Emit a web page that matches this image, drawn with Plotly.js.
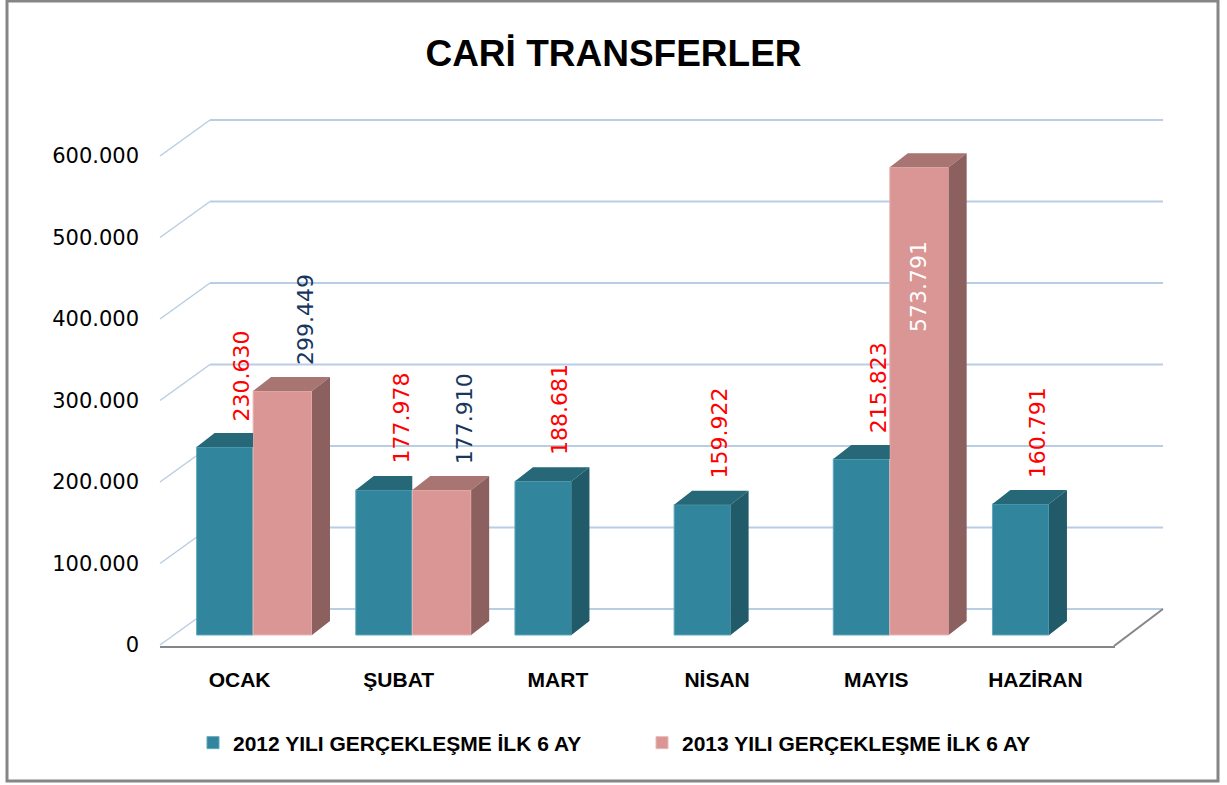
<!DOCTYPE html>
<html>
<head>
<meta charset="utf-8">
<script src="https://cdn.plot.ly/plotly-3.0.1.min.js"></script>
<style>html,body{margin:0;padding:0;background:#fff;}#chart{width:1227px;height:785px;}</style>
</head>
<body>
<div id="chart"></div>
<script>
// ---------------- DATA ----------------
const months = ['OCAK', 'ŞUBAT', 'MART', 'NİSAN', 'MAYIS', 'HAZİRAN'];
const values2012 = [230630, 177978, 188681, 159922, 215823, 160791];
const values2013 = [299449, 177910, null, null, 573791, null];
const seriesNames = ['2012 YILI GERÇEKLEŞME İLK 6 AY', '2013 YILI GERÇEKLEŞME İLK 6 AY'];
const yTickValues = [0, 100000, 200000, 300000, 400000, 500000, 600000];
const chartTitle = 'CARİ TRANSFERLER';

// ---------------- STYLE / GEOMETRY ----------------
const W = 1227, H = 785;
const plotL = 160, plotR = 1115, plotT = 100, plotB = 646;
const baseY = 635;                 // pixel of value 0 (bar base)
const pxPerUnit = 81.5 / 100000;   // vertical scale
const plotW = plotR - plotL, plotH = plotB - plotT;
const yMin = -(plotB - baseY) / pxPerUnit;
const yMax = yMin + plotH / pxPerUnit;
const pxPerCat = plotW / months.length;
const depthPx = {x: 18, y: 14};
const dx = depthPx.x / pxPerCat;
const dy = depthPx.y / pxPerUnit;

const colors = {
  front: ['#31859C', '#D99694'],
  top: ['#266878', '#A87572'],
  side: ['#215A68', '#8C605E'],
  edge: ['#5FA8BC', '#E8B8B6'],
  label: ['#FF0000', '#17375E'],
  grid: '#B9CDE5',
  floor: '#868686'
};
const barWidth = [0.355, 0.37];
const barOffset = [-0.27, 0.085];
const labelXShift = [17, 23];
const insideThreshold = 500000;
const fmt = v => v.toLocaleString('de-DE');
const px2paperX = px => (px - plotL) / plotW;
const px2paperY = py => (plotB - py) / plotH;

const idx = months.map((_, i) => i);
const series = [values2012, values2013];

// ---------------- TRACES ----------------
const traces = [];
series.forEach((vals, s) => {
  traces.push({
    type: 'bar', name: '<b>' + seriesNames[s] + '</b>',
    x: idx, y: vals, width: barWidth[s], offset: barOffset[s],
    marker: {color: colors.front[s], line: {color: colors.edge[s], width: 1}},
    hoverinfo: 'x+y'
  });
});

// 3D top and side faces derived from the values
series.forEach((vals, s) => {
  const tx = [], ty = [], sx = [], sy = [];
  vals.forEach((v, i) => {
    if (v === null) return;
    const x0 = i + barOffset[s], x1 = x0 + barWidth[s];
    const other = s === 0 ? values2013[i] : null;
    const hidden = other !== null && other >= v - 1000;
    if (hidden) {
      tx.push(x0, x1, x1, x0 + dx, x0, null);
      ty.push(v, v, v + dy, v + dy, v, null);
    } else {
      tx.push(x0, x1, x1 + dx, x0 + dx, x0, null);
      ty.push(v, v, v + dy, v + dy, v, null);
      sx.push(x1, x1, x1 + dx, x1 + dx, x1, null);
      sy.push(0, v, v + dy, dy, 0, null);
    }
  });
  traces.push({type: 'scatter', mode: 'lines', x: tx, y: ty, fill: 'toself',
    fillcolor: colors.top[s], line: {width: 0, color: colors.top[s]}, showlegend: false, hoverinfo: 'skip'});
  if (sx.length) traces.push({type: 'scatter', mode: 'lines', x: sx, y: sy, fill: 'toself',
    fillcolor: colors.side[s], line: {width: 0, color: colors.side[s]}, showlegend: false, hoverinfo: 'skip'});
});

// ---------------- ANNOTATIONS (data labels) ----------------
const annotations = [];
series.forEach((vals, s) => {
  vals.forEach((v, i) => {
    if (v === null) return;
    const xc = i + barOffset[s] + barWidth[s] / 2;
    const inside = v > insideThreshold;
    annotations.push({
      x: xc, y: v, xref: 'x', yref: 'y', text: fmt(v), showarrow: false,
      textangle: -90, xanchor: 'center', yanchor: inside ? 'top' : 'bottom',
      xshift: inside ? 0 : labelXShift[s], yshift: inside ? -72 : 24,
      font: {family: 'DejaVu Sans', size: 22, color: inside ? '#FFFFFF' : colors.label[s]}
    });
  });
});

// ---------------- SHAPES (3D walls & grid) ----------------
const shapes = [];
yTickValues.forEach(v => {
  // back wall gridline
  shapes.push({type: 'line', layer: 'below', xref: 'paper', yref: 'y',
    xsizemode: 'pixel', xanchor: 0, x0: 50, x1: 1003,
    ysizemode: 'pixel', yanchor: v, y0: 26, y1: 26,
    line: {color: colors.grid, width: 2}});
  // side wall diagonal
  shapes.push({type: 'line', layer: 'below', xref: 'paper', yref: 'y',
    xsizemode: 'pixel', xanchor: 0, x0: 0, x1: 50,
    ysizemode: 'pixel', yanchor: v, y0: -10, y1: 26,
    line: {color: colors.grid, width: 1.5}});
});
// floor right edge
shapes.push({type: 'line', layer: 'below', xref: 'paper', yref: 'y',
  xsizemode: 'pixel', xanchor: 1, x0: -1, x1: 48,
  ysizemode: 'pixel', yanchor: 0, y0: -11, y1: 26,
  line: {color: colors.floor, width: 2}});
// chart frame
shapes.push({type: 'rect', xref: 'paper', yref: 'paper',
  x0: px2paperX(7), x1: px2paperX(1218), y0: px2paperY(781), y1: px2paperY(1),
  line: {color: '#868686', width: 3}, fillcolor: 'rgba(0,0,0,0)'});

// ---------------- LAYOUT ----------------
const layout = {
  width: W, height: H,
  margin: {l: plotL, r: W - plotR, t: plotT, b: H - plotB, pad: 0},
  paper_bgcolor: '#FFFFFF', plot_bgcolor: 'rgba(0,0,0,0)',
  separators: ',.',
  barmode: 'overlay',
  title: {text: '<b>' + chartTitle + '</b>', x: 0.5, xanchor: 'center', y: 1 - 53 / H, yanchor: 'middle',
    font: {family: 'Liberation Sans', size: 37, color: '#000000'}},
  xaxis: {type: 'linear', range: [-0.5, months.length - 0.5], tickvals: idx,
    ticktext: months.map(m => '<b>' + m + '</b>'),
    showgrid: false, zeroline: false, showline: true, linecolor: colors.floor, linewidth: 2,
    ticks: '', ticklabelstandoff: 14,
    tickfont: {family: 'Liberation Sans', size: 21, color: '#000000'}, fixedrange: true},
  yaxis: {range: [yMin, yMax], tickvals: yTickValues, tickformat: ',', showgrid: false,
    zeroline: false, showline: false, ticks: '', ticklabelshift: 10, ticklabelstandoff: 20,
    tickfont: {family: 'DejaVu Sans', size: 21, color: '#000000'}, fixedrange: true},
  legend: {orientation: 'h', x: px2paperX(193), xanchor: 'left', y: px2paperY(743), yanchor: 'middle',
    entrywidth: 404, entrywidthmode: 'pixels',
    font: {family: 'Liberation Sans', size: 21, color: '#000000'}, bgcolor: 'rgba(0,0,0,0)'},
  showlegend: true,
  annotations: annotations,
  shapes: shapes
};

Plotly.newPlot('chart', traces, layout, {displayModeBar: false, staticPlot: true});
</script>
</body>
</html>
